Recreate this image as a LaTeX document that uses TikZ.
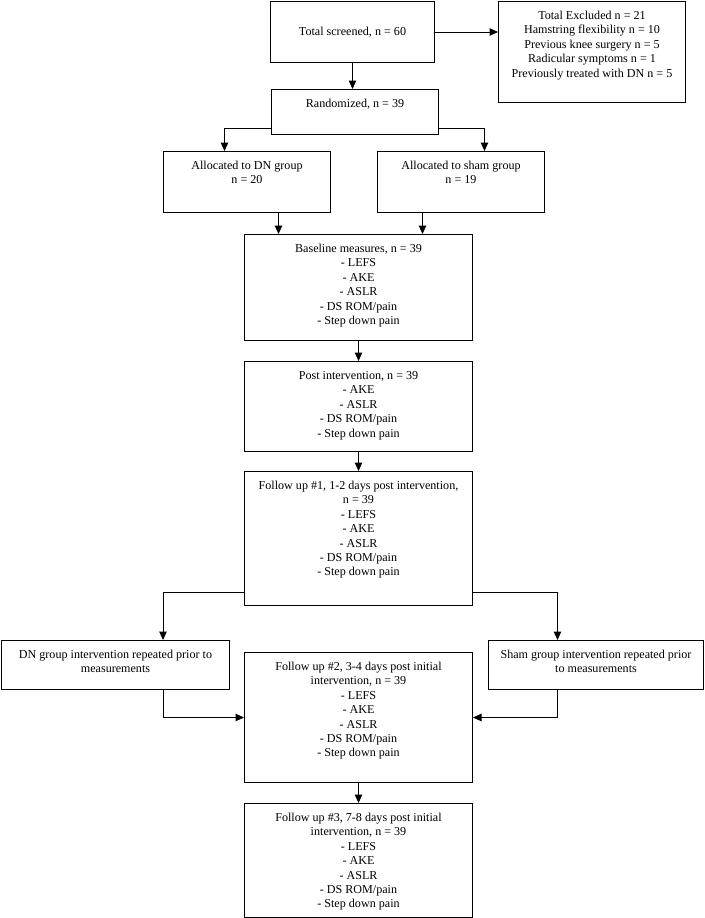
\documentclass[tikz,border=0pt]{standalone}
\usepackage{fontspec}
\setmainfont{Liberation Serif}
\usetikzlibrary{arrows.meta}
\tikzset{>={Triangle[length=8.5pt,width=7.5pt]}}
\tikzset{flowbox/.style={draw, line width=1pt, inner sep=0pt, anchor=north west,
    font=\fontsize{12.1}{14.4}\selectfont}}
\newcommand{\flowtxt}[3]{\parbox[c][#2pt][t]{#1pt}{\centering\vspace*{8pt}\strut #3}}

\begin{document}
\begin{tikzpicture}[x=1pt,y=-1pt]
            \useasboundingbox (0,0) rectangle (704,918);

            \node[flowbox] (screened) at (270,1) {\parbox[c][61pt][c]{164pt}{\centering Total screened, n = 60}};
            \node[flowbox] (excluded) at (498,1) {\flowtxt{187}{101}{Total Excluded n = 21\\ Hamstring flexibility n = 10\\ Previous knee surgery n = 5\\ Radicular symptoms n = 1\\ Previously treated with DN n = 5}};
            \node[flowbox] (random) at (271,89) {\flowtxt{167}{45}{Randomized, n = 39}};
            \node[flowbox] (allocdn) at (163,151) {\flowtxt{167}{61}{Allocated to DN group\\ n = 20}};
            \node[flowbox] (allocsham) at (377,151) {\flowtxt{167}{61}{Allocated to sham group\\ n = 19}};
            \node[flowbox] (baseline) at (244,234) {\flowtxt{228}{106}{Baseline measures, n = 39\\ - LEFS\\ - AKE\\ - ASLR\\ - DS ROM/pain\\ - Step down pain}};
            \node[flowbox] (post) at (244,361) {\flowtxt{228}{90}{Post intervention, n = 39\\ - AKE\\ - ASLR\\ - DS ROM/pain\\ - Step down pain}};
            \node[flowbox] (fu1) at (244,471) {\flowtxt{228}{134}{Follow up \#1, 1-2 days post intervention,\\ n = 39\\ - LEFS\\ - AKE\\ - ASLR\\ - DS ROM/pain\\ - Step down pain}};
            \node[flowbox] (dnrep) at (1,640) {\flowtxt{228}{49}{DN group intervention repeated prior to\\ measurements}};
            \node[flowbox] (shamrep) at (488,640) {\flowtxt{215}{49}{Sham group intervention repeated prior\\ to measurements}};
            \node[flowbox] (fu2) at (244,652) {\flowtxt{228}{130}{Follow up \#2, 3-4 days post initial\\ intervention, n = 39\\ - LEFS\\ - AKE\\ - ASLR\\ - DS ROM/pain\\ - Step down pain}};
            \node[flowbox] (fu3) at (244,803) {\flowtxt{228}{114}{Follow up \#3, 7-8 days post initial\\ intervention, n = 39\\ - LEFS\\ - AKE\\ - ASLR\\ - DS ROM/pain\\ - Step down pain}};

            \draw[->, line width=1pt] (screened.east) -- (screened.east -| excluded.west);
            \draw[->, line width=1pt] (screened.south) -- (screened.south |- random.north);
            \draw[->, line width=1pt] ([yshift=7pt]random.south west) -| ([xshift=-22.5pt]allocdn.north);
            \draw[->, line width=1pt] ([yshift=7pt]random.south east) -| ([xshift=23.5pt]allocsham.north);
            \draw[->, line width=1pt] ([xshift=31.5pt]allocdn.south) -- ([xshift=31.5pt]allocdn.south |- baseline.north);
            \draw[->, line width=1pt] ([xshift=-38.5pt]allocsham.south) -- ([xshift=-38.5pt]allocsham.south |- baseline.north);
            \draw[->, line width=1pt] (baseline.south) -- (post.north);
            \draw[->, line width=1pt] (post.south) -- (fu1.north);
            \draw[->, line width=1pt] ([yshift=14pt]fu1.south west) -| ([xshift=47.5pt]dnrep.north);
            \draw[->, line width=1pt] ([yshift=14pt]fu1.south east) -| ([xshift=-38.5pt]shamrep.north);
            \draw[->, line width=1pt] ([xshift=47.5pt]dnrep.south) |- (fu2.west);
            \draw[->, line width=1pt] ([xshift=-38.5pt]shamrep.south) |- (fu2.east);
            \draw[->, line width=1pt] (fu2.south) -- (fu3.north);

        \end{tikzpicture}
\end{document}
